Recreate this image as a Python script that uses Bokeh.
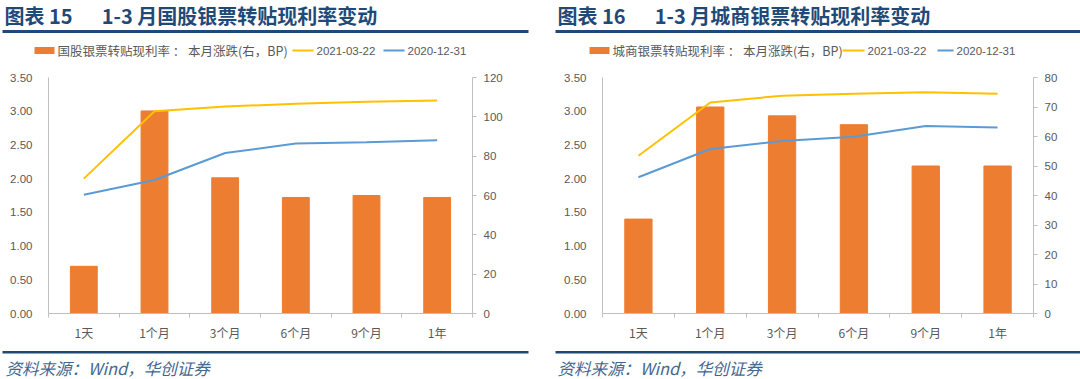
from bokeh.plotting import figure
from bokeh.models import Range1d, LinearAxis, FixedTicker, NumeralTickFormatter
from bokeh.core.properties import value
from bokeh.layouts import row, column
from bokeh.embed import file_html
from bokeh.resources import INLINE

# ---------------- data ----------------
categories = ["1天", "1个月", "3个月", "6个月", "9个月", "1年"]
series_names = ["2021-03-22", "2020-12-31"]
source_text = "资料来源：Wind，华创证券"

gg_title = "图表 15 \u2003 1-3 月国股银票转贴现利率变动"
gg_bar_label = "国股银票转贴现利率 ： 本月涨跌(右，BP)"
gg_change_bp = [24, 103, 69, 59, 60, 59]
gg_rate_2021 = [2.00, 3.00, 3.07, 3.11, 3.14, 3.16]
gg_rate_2020 = [1.76, 1.98, 2.38, 2.52, 2.54, 2.57]
gg_right_ticks = [0, 20, 40, 60, 80, 100, 120]

cs_title = "图表 16 \u2003 1-3 月城商银票转贴现利率变动"
cs_bar_label = "城商银票转贴现利率 ： 本月涨跌(右，BP)"
cs_change_bp = [32, 70, 67, 64, 50, 50]
cs_rate_2021 = [2.34, 3.13, 3.23, 3.26, 3.28, 3.26]
cs_rate_2020 = [2.02, 2.44, 2.56, 2.62, 2.78, 2.76]
cs_right_ticks = [0, 10, 20, 30, 40, 50, 60, 70, 80]

left_ticks = [0, 0.5, 1.0, 1.5, 2.0, 2.5, 3.0, 3.5]

# ---------------- style ----------------
ORANGE = "#ED7D31"
YELLOW = "#FFC000"
BLUE = "#5B9BD5"
NAVY = "#1F4A78"
SRC = "#44688F"
AXIS = "#BFBFBF"
TXT = "#595959"
CJK = "Noto Sans CJK SC"
NUM = "Liberation Sans"

PW = 540                     # one panel's width
TW = 2 * PW
H_HEAD, H_CHART, H_FOOT = 62, 281, 36
FRAME_TOP, FRAME_BOT = 77, 313   # in page pixels


def blank(h, y0):
    p = figure(width=TW, height=h, output_backend="svg", toolbar_location=None,
               x_range=Range1d(0, TW), y_range=Range1d(y0 + h, y0),
               x_axis_location=None, y_axis_location=None, min_border=0,
               outline_line_color=None, background_fill_color="white",
               border_fill_color="white")
    p.xgrid.visible = False
    p.ygrid.visible = False
    return p


def add_header(p, title, bar_label, cfg):
    o = cfg["off"]
    p.text(x=[o + cfg["tx"]], y=[15], text=[title], text_font=value(CJK),
           text_font_size="20px", text_font_style="bold", text_color=NAVY,
           text_baseline="middle", text_align="left")
    p.quad(left=[o + cfg["line0"]], right=[o + cfg["line1"]], top=[29.5], bottom=[32.5],
           fill_color=NAVY, line_color=None)
    ly = 50
    r0, r1 = cfg["rect"]
    p.quad(left=[o + r0], right=[o + r1], top=[ly - 3.5], bottom=[ly + 3.5],
           fill_color=ORANGE, line_color=None)
    p.text(x=[o + r1 + 3], y=[ly], text=[bar_label], text_font=value(CJK),
           text_font_size="12.5px", text_color=TXT, text_baseline="middle")
    y0, y1 = cfg["yl"]
    p.line([o + y0, o + y1], [ly, ly], line_color=YELLOW, line_width=2)
    p.text(x=[o + y1 + 3], y=[ly], text=[series_names[0]], text_font=value(NUM),
           text_font_size="11.5px", text_color=TXT, text_baseline="middle")
    b0, b1 = cfg["bl"]
    p.line([o + b0, o + b1], [ly, ly], line_color=BLUE, line_width=2)
    p.text(x=[o + b1 + 3], y=[ly], text=[series_names[1]], text_font=value(NUM),
           text_font_size="11.5px", text_color=TXT, text_baseline="middle")


def add_footer(p, cfg):
    o = cfg["off"]
    p.quad(left=[o + cfg["line0"]], right=[o + cfg["line1"]], top=[350.5], bottom=[353],
           fill_color=NAVY, line_color=None)
    p.text(x=[o + cfg["sx"]], y=[367], text=[source_text], text_font=value(CJK),
           text_font_size="16.5px", text_font_style="italic", text_color=SRC,
           text_baseline="middle", text_align="left")


def chart(change, r21, r20, right_ticks, cfg):
    L, R = cfg["L"], cfg["R"]
    p = figure(width=PW, height=H_CHART, output_backend="svg", toolbar_location=None,
               x_range=Range1d(-0.5, len(categories) - 0.5), y_range=Range1d(0, 3.5),
               min_border_left=L, min_border_right=PW - R,
               min_border_top=FRAME_TOP - H_HEAD,
               min_border_bottom=H_HEAD + H_CHART - FRAME_BOT,
               outline_line_color=None, background_fill_color="white",
               border_fill_color="white")
    p.extra_y_ranges = {"right": Range1d(0, right_ticks[-1])}
    p.xgrid.visible = False
    p.ygrid.visible = False

    xs = list(range(len(categories)))
    p.vbar(x=xs, top=change, width=0.38, y_range_name="right",
           fill_color=ORANGE, line_color=ORANGE)
    p.line(xs, r21, line_color=YELLOW, line_width=2)
    p.line(xs, r20, line_color=BLUE, line_width=2)

    xa = p.xaxis[0]
    xa.ticker = FixedTicker(ticks=xs, minor_ticks=[i - 0.5 for i in range(len(categories) + 1)])
    xa.major_label_overrides = {i: c for i, c in enumerate(categories)}
    xa.major_tick_out = 0
    xa.major_tick_in = 0
    xa.minor_tick_out = 4
    xa.minor_tick_in = 0
    xa.minor_tick_line_color = AXIS
    xa.axis_line_color = AXIS
    xa.major_label_text_font = CJK
    xa.major_label_text_font_size = "12px"
    xa.major_label_text_color = TXT
    xa.major_label_standoff = 6

    ya = p.yaxis[0]
    ya.ticker = FixedTicker(ticks=left_ticks)
    ya.formatter = NumeralTickFormatter(format="0.00")
    ya.major_tick_out = 0
    ya.major_tick_in = 0
    ya.minor_tick_out = 0
    ya.minor_tick_in = 0
    ya.axis_line_color = AXIS
    ya.major_label_text_font = NUM
    ya.major_label_text_font_size = "11.5px"
    ya.major_label_text_color = TXT
    ya.major_label_standoff = 16

    ra = LinearAxis(y_range_name="right", ticker=FixedTicker(ticks=right_ticks))
    ra.major_tick_out = 4
    ra.major_tick_in = 0
    ra.minor_tick_out = 0
    ra.minor_tick_in = 0
    ra.major_tick_line_color = AXIS
    ra.axis_line_color = AXIS
    ra.major_label_text_font = NUM
    ra.major_label_text_font_size = "11.5px"
    ra.major_label_text_color = TXT
    ra.major_label_standoff = 7
    p.add_layout(ra, "right")
    return p


cfg1 = dict(off=0, L=48, R=472, tx=4, line0=2, line1=528, sx=5,
            rect=(34, 54), yl=(292, 313), bl=(383, 404))
cfg2 = dict(off=PW, L=62, R=493, tx=17, line0=15, line1=540, sx=17,
            rect=(49, 69), yl=(302, 324), bl=(397, 413))

head = blank(H_HEAD, 0)
add_header(head, gg_title, gg_bar_label, cfg1)
add_header(head, cs_title, cs_bar_label, cfg2)

foot = blank(H_FOOT, H_HEAD + H_CHART)
add_footer(foot, cfg1)
add_footer(foot, cfg2)

charts = row(chart(gg_change_bp, gg_rate_2021, gg_rate_2020, gg_right_ticks, cfg1),
             chart(cs_change_bp, cs_rate_2021, cs_rate_2020, cs_right_ticks, cfg2),
             spacing=0)

layout = column(head, charts, foot, spacing=0)
open("out.html", "w").write(file_html(layout, INLINE))
